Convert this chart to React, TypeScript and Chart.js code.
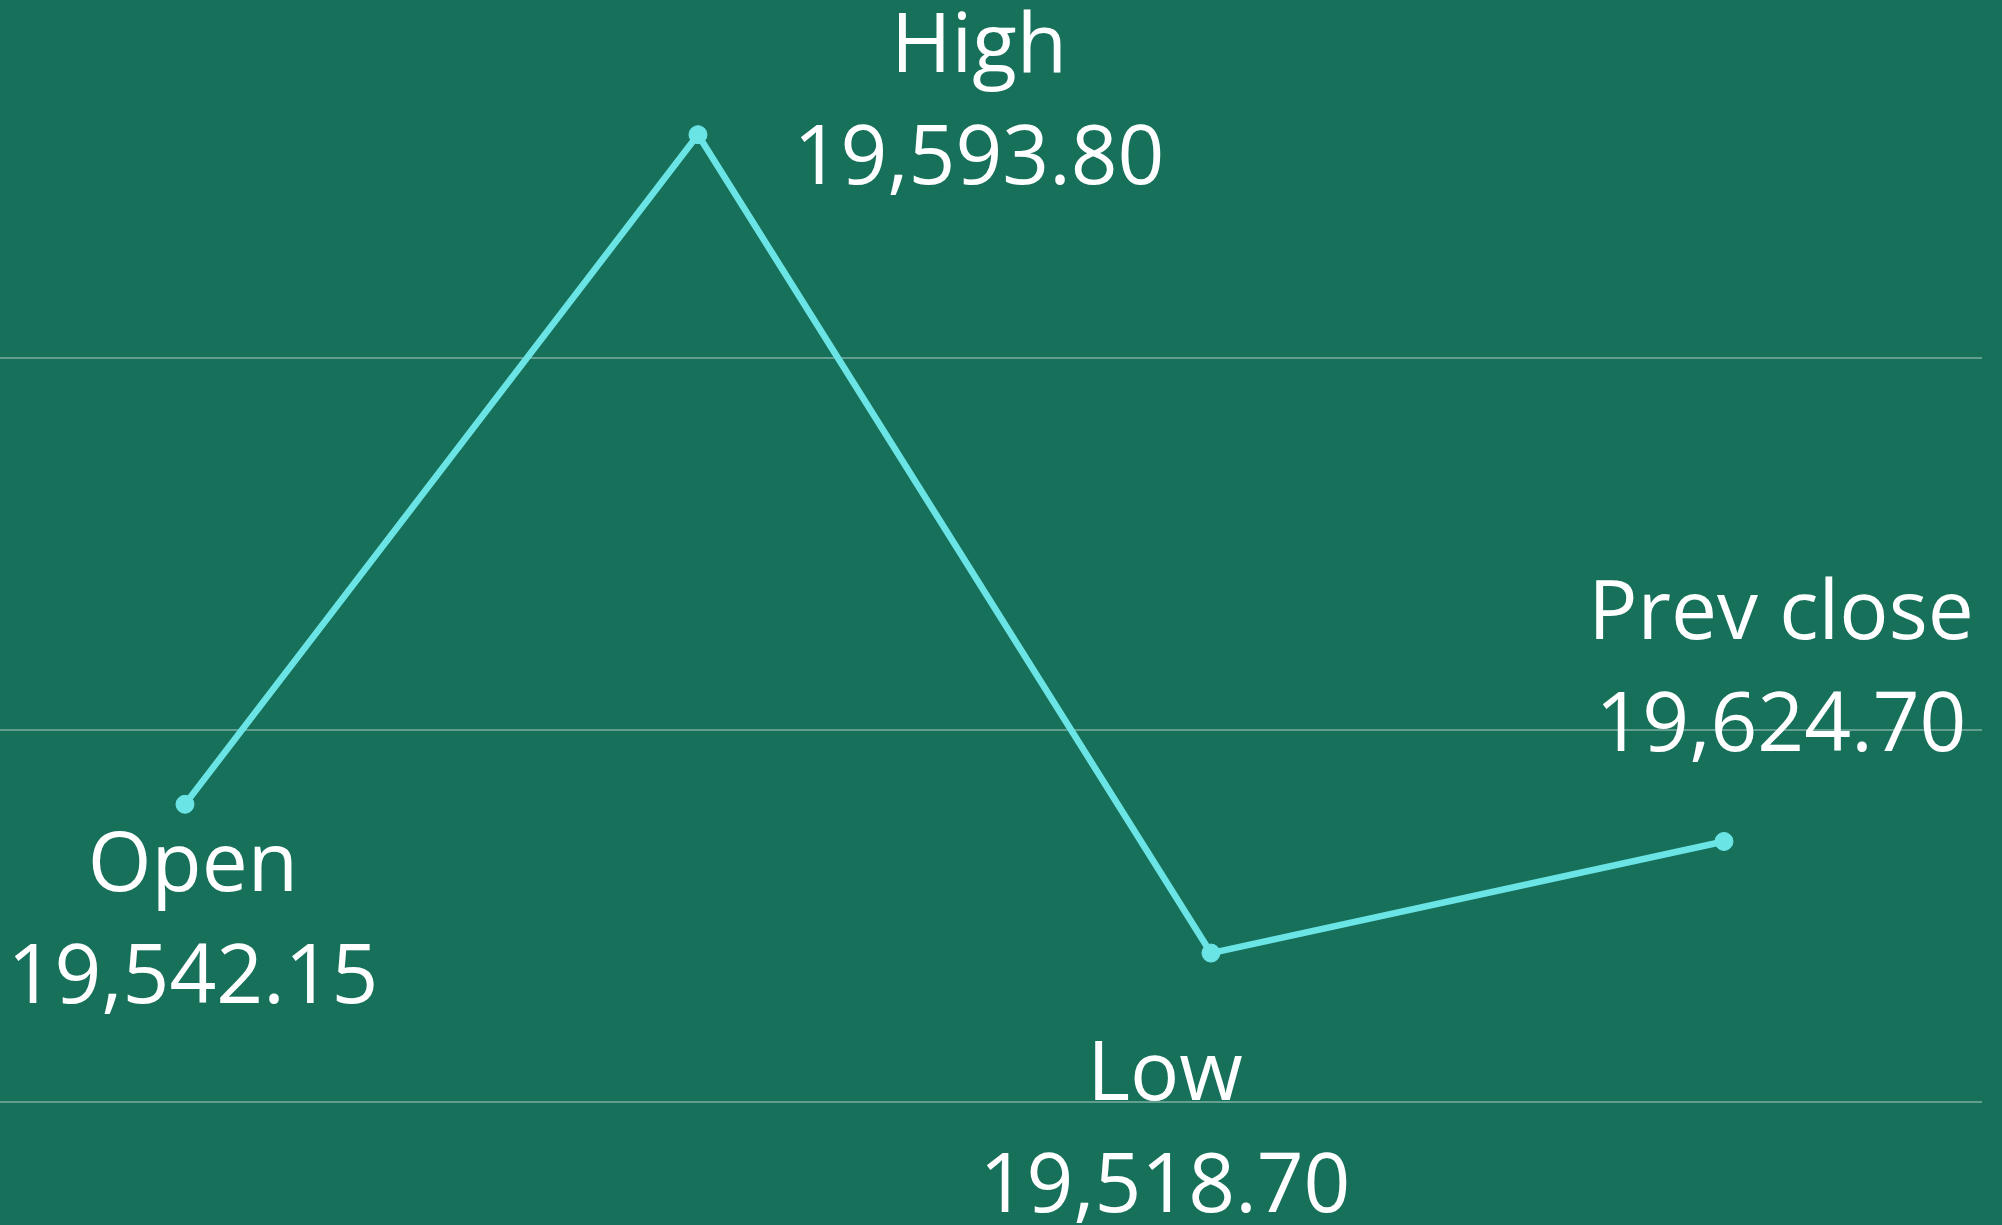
import React, { useEffect, useRef } from "react";
import { Chart, registerables } from "chart.js";

Chart.register(...registerables);

// ---- data ----
const categories: string[] = ["Open", "High", "Low", "Prev close"];
const priceLabels: string[] = ["19,542.15", "19,593.80", "19,518.70", "19,624.70"];
// vertical position of each point as drawn in the picture (relative scale units)
const plotValues: number[] = [180, 360, 140, 170];
const gridTicks: number[] = [100, 200, 300];

// ---- styles / layout ----
const BG = "#17705A";
const LINE = "#6BE4E6";
const GRID = "rgba(255,255,255,0.33)";
const FONT = "82px 'Open Sans', 'Noto Sans', sans-serif";
// label offsets from each point (dx to text centre, dy to first and second baselines)
const labelOffsets = [
  { dx: 8, dy1: 87, dy2: 199 },
  { dx: 281, dy1: -63, dy2: 49 },
  { dx: -46, dy1: 147, dy2: 259 },
  { dx: 57, dy1: -202, dy2: -90 },
];

const labelPlugin = {
  id: "pointLabels",
  afterDatasetsDraw(chart: any) {
    const ctx = chart.ctx;
    const meta = chart.getDatasetMeta(0);
    ctx.save();
    ctx.fillStyle = "#ffffff";
    ctx.font = FONT;
    ctx.textAlign = "center";
    ctx.textBaseline = "alphabetic";
    meta.data.forEach((pt: any, i: number) => {
      const o = labelOffsets[i];
      ctx.fillText(categories[i], pt.x + o.dx, pt.y + o.dy1);
      ctx.fillText(priceLabels[i], pt.x + o.dx, pt.y + o.dy2);
    });
    ctx.restore();
  },
};

export default function App() {
  const ref = useRef<HTMLCanvasElement | null>(null);

  useEffect(() => {
    if (!ref.current) return;
    const chart = new Chart(ref.current, {
      type: "line",
      data: {
        datasets: [
          {
            label: "Price",
            data: plotValues.map((v, i) => ({ x: i, y: v })),
            borderColor: LINE,
            backgroundColor: LINE,
            borderWidth: 6.5,
            pointRadius: 9,
            pointBorderWidth: 1,
            pointBorderColor: LINE,
            pointBackgroundColor: LINE,
            tension: 0,
            clip: false as any,
          },
        ],
      },
      options: {
        animation: false,
        responsive: true,
        maintainAspectRatio: false,
        layout: { autoPadding: false, padding: { left: 0, right: 20, top: 0, bottom: 0 } },
        plugins: {
          legend: { display: false },
          tooltip: { enabled: false },
        },
        scales: {
          x: {
            type: "linear",
            min: -0.3606,
            max: 3.503,
            display: false,
          },
          y: {
            type: "linear",
            min: 66.9,
            max: 396.2,
            display: true,
            afterBuildTicks: (scale: any) => {
              scale.ticks = gridTicks.map((v) => ({ value: v }));
            },
            ticks: { display: false, padding: 0 },
            border: { display: false },
            grid: { color: GRID, lineWidth: 2, drawTicks: false },
          },
        },
      },
      plugins: [labelPlugin],
    });
    return () => chart.destroy();
  }, []);

  return (
    <div
      style={{
        position: "absolute",
        left: 0,
        top: 0,
        width: 2002,
        height: 1225,
        background: BG,
      }}
    >
      <canvas ref={ref} />
    </div>
  );
}
